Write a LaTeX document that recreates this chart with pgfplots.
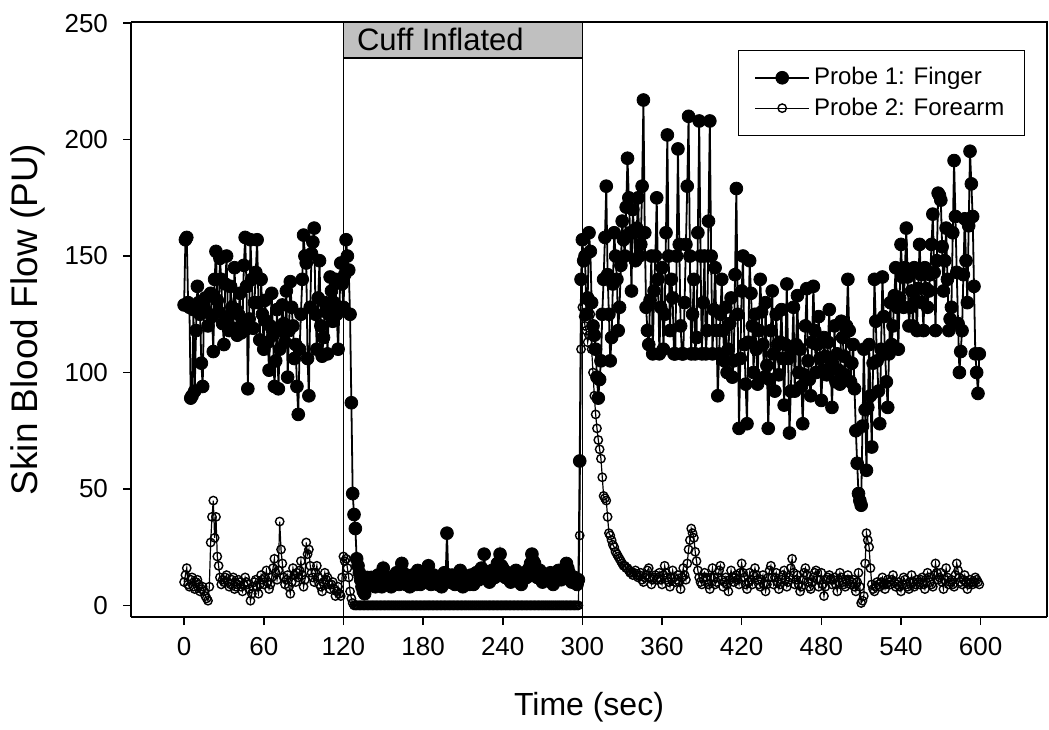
\documentclass[border=0pt]{standalone}
\usepackage{pgfplots}
\usepackage{pgfplotstable}
\usepackage{fontspec}
\setmainfont{Liberation Sans}
\pgfplotsset{compat=1.18}
\definecolor{cuffgray}{HTML}{C0C0C0}
\pgfplotstableread{
t f a
0 129 10
1 157 13
2 158 16
3 130 9
4 128 8
5 89 11
6 90 12
7 127 8
8 92 7
9 118 10
10 137 11
11 130 9
12 125 6
13 104 7
14 94 8
15 128 6
16 132 4
17 126 3
18 120 2
19 133 8
20 134 27
21 124 38
22 109 45
23 140 29
24 152 38
25 131 21
26 126 17
27 149 12
28 140 9
29 121 11
30 112 10
31 138 12
32 150 13
33 124 10
34 118 8
35 137 9
36 128 11
37 119 12
38 145 7
39 127 8
40 116 9
41 125 11
42 134 10
43 117 8
44 121 6
45 146 9
46 158 12
47 137 10
48 93 9
49 123 7
50 157 2
51 140 5
52 119 8
53 130 10
54 143 11
55 157 8
56 130 5
57 114 9
58 140 13
59 125 11
60 110 9
61 131 12
62 122 15
63 113 10
64 101 7
65 120 9
66 134 12
67 116 16
68 94 20
69 105 14
70 127 11
71 93 15
72 110 36
73 118 24
74 129 18
75 121 12
76 113 9
77 135 11
78 98 13
79 118 8
80 139 5
81 128 10
82 120 16
83 106 13
84 112 10
85 94 14
86 82 12
87 110 15
88 125 19
89 140 13
90 159 8
91 150 11
92 147 27
93 106 22
94 90 24
95 128 17
96 151 14
97 156 12
98 162 10
99 125 14
100 110 17
101 132 12
102 148 9
103 120 8
104 107 6
105 115 10
106 130 14
107 126 11
108 108 12
109 125 9
110 141 7
111 135 9
112 122 10
113 130 7
114 140 4
115 125 6
116 110 8
117 128 5
118 147 4
119 138 12
120 128 21
121 142 19
122 157 20
123 150 16
124 144 12
125 125 6
126 87 3
127 48 1
128 39 0
129 33 0
130 20 0
131 17 0
132 14 0
133 11 0
134 8 0
135 6 0
136 5 0
137 9 0
138 12 0
139 10 0
140 9 0
141 12 0
142 11 0
143 9 0
144 8 0
145 10 0
146 13 0
147 11 0
148 10 0
149 8 0
150 16 0
151 12 0
152 9 0
153 11 0
154 12 0
155 10 0
156 8 0
157 9 0
158 11 0
159 13 0
160 14 0
161 10 0
162 9 0
163 12 0
164 18 0
165 14 0
166 10 0
167 9 0
168 12 0
169 11 0
170 8 0
171 10 0
172 13 0
173 12 0
174 10 0
175 9 0
176 15 0
177 12 0
178 9 0
179 11 0
180 12 0
181 10 0
182 11 0
183 13 0
184 17 0
185 12 0
186 9 0
187 10 0
188 13 0
189 11 0
190 10 0
191 9 0
192 12 0
193 10 0
194 8 0
195 11 0
196 14 0
197 12 0
198 31 0
199 13 0
200 10 0
201 12 0
202 13 0
203 10 0
204 9 0
205 12 0
206 11 0
207 13 0
208 15 0
209 11 0
210 8 0
211 10 0
212 12 0
213 11 0
214 10 0
215 9 0
216 13 0
217 12 0
218 9 0
219 11 0
220 14 0
221 12 0
222 11 0
223 13 0
224 16 0
225 15 0
226 22 0
227 14 0
228 13 0
229 12 0
230 10 0
231 13 0
232 15 0
233 12 0
234 12 0
235 14 0
236 18 0
237 16 0
238 22 0
239 17 0
240 16 0
241 14 0
242 12 0
243 13 0
244 14 0
245 11 0
246 10 0
247 12 0
248 13 0
249 14 0
250 15 0
251 12 0
252 11 0
253 10 0
254 9 0
255 12 0
256 14 0
257 13 0
258 12 0
259 14 0
260 16 0
261 18 0
262 22 0
263 19 0
264 18 0
265 14 0
266 12 0
267 13 0
268 15 0
269 12 0
270 10 0
271 11 0
272 13 0
273 12 0
274 11 0
275 13 0
276 14 0
277 10 0
278 9 0
279 11 0
280 12 0
281 14 0
282 15 0
283 12 0
284 11 0
285 12 0
286 13 0
287 15 0
288 18 0
289 16 0
290 14 0
291 11 0
292 10 0
293 11 0
294 12 0
295 10 0
296 9 0
297 11 0
298 62 30
299 140 110
300 157 128
301 148 124
302 150 120
303 125 118
304 132 113
305 160 116
306 152 125
307 130 110
308 120 100
309 116 90
310 110 82
311 98 76
312 89 71
313 97 67
314 105 63
315 125 55
316 140 47
317 158 46
318 180 45
319 142 38
320 125 31
321 105 30
322 115 28
323 138 26
324 160 25
325 150 23
326 140 22
327 118 21
328 128 20
329 146 19
330 165 18
331 157 17
332 150 17
333 171 16
334 192 16
335 175 15
336 160 14
337 135 14
338 170 13
339 160 14
340 148 15
341 162 13
342 175 12
343 150 13
344 155 14
345 180 11
346 217 10
347 160 12
348 128 13
349 118 15
350 112 16
351 131 12
352 150 9
353 108 11
354 135 12
355 150 13
356 175 11
357 140 12
358 108 14
359 128 11
360 145 9
361 110 13
362 125 17
363 160 14
364 202 12
365 150 10
366 118 8
367 140 12
368 132 15
369 108 12
370 108 10
371 150 11
372 196 13
373 155 10
374 120 7
375 108 12
376 108 16
377 130 13
378 155 11
379 180 18
380 210 24
381 150 28
382 108 33
383 125 31
384 140 29
385 108 23
386 115 19
387 160 15
388 208 12
389 150 10
390 108 9
391 130 12
392 150 14
393 108 12
394 118 11
395 165 9
396 208 7
397 150 12
398 108 16
399 127 12
400 145 9
401 118 10
402 90 12
403 108 15
404 125 17
405 140 11
406 118 8
407 105 10
408 128 12
409 100 9
410 110 6
411 121 11
412 132 15
413 98 12
414 105 10
415 142 12
416 179 13
417 125 11
418 76 9
419 106 14
420 135 18
421 150 14
422 112 12
423 95 9
424 78 7
425 113 10
426 148 14
427 134 11
428 120 9
429 100 13
430 125 16
431 110 13
432 95 11
433 118 9
434 140 8
435 126 11
436 112 13
437 98 9
438 130 6
439 103 9
440 76 12
441 97 15
442 118 17
443 135 12
444 108 9
445 92 12
446 125 14
447 112 10
448 99 7
449 113 9
450 127 11
451 106 13
452 86 15
453 112 11
454 138 8
455 106 10
456 74 12
457 92 16
458 110 20
459 128 14
460 92 9
461 112 11
462 133 13
463 100 9
464 110 6
465 94 8
466 78 11
467 99 14
468 120 16
469 136 13
470 105 10
471 97 8
472 90 7
473 113 10
474 137 12
475 118 14
476 100 15
477 112 11
478 124 8
479 106 11
480 88 14
481 101 9
482 115 4
483 107 8
484 99 11
485 113 12
486 127 13
487 106 11
488 85 9
489 102 11
490 120 12
491 96 9
492 108 6
493 101 10
494 95 14
495 122 12
496 115 10
497 107 9
498 99 8
499 120 11
500 140 13
501 118 11
502 96 9
503 104 10
504 112 11
505 93 8
506 75 6
507 61 10
508 48 14
509 45 8
510 43 1
511 77 2
512 110 4
513 84 18
514 58 31
515 85 28
516 112 25
517 90 16
518 68 9
519 104 7
520 140 6
521 122 8
522 105 10
523 92 9
524 78 8
525 110 10
526 141 12
527 124 9
528 108 7
529 96 9
530 85 11
531 108 10
532 130 9
533 112 11
534 120 13
535 133 10
536 145 8
537 128 9
538 110 10
539 132 8
540 155 6
541 141 9
542 128 12
543 145 11
544 162 9
545 141 8
546 120 7
547 128 10
548 135 13
549 120 10
550 145 8
551 131 9
552 118 11
553 136 10
554 155 9
555 142 11
556 130 12
557 118 9
558 145 7
559 136 10
560 128 14
561 135 12
562 142 10
563 155 9
564 168 8
565 143 13
566 118 18
567 148 14
568 177 11
569 176 12
570 174 14
571 154 10
572 135 7
573 148 11
574 162 16
575 140 12
576 118 9
577 123 10
578 128 11
579 160 9
580 191 8
581 167 13
582 143 18
583 121 15
584 100 12
585 109 10
586 118 9
587 142 11
588 166 13
589 148 10
590 130 7
591 163 9
592 195 11
593 181 10
594 167 9
595 137 10
596 108 12
597 100 11
598 91 10
599 108 9
}\data
\begin{document}
\begin{tikzpicture}
\begin{axis}[
  scale only axis, width=458pt, height=297.5pt,
  xmin=-40, xmax=650, ymin=-5, ymax=250.5,
  xtick={0,60,...,600}, ytick={0,50,...,250},
  axis x line*=bottom, axis y line*=left,
  tick align=outside, major tick length=4pt,
  axis line style={line width=0.9pt, -},
  every tick/.style={line width=0.8pt, black},
  /pgf/number format/assume math mode=true,
  ticklabel style={font=\fontsize{13}{15}\selectfont},
  xticklabel style={yshift=-2.5pt},
  yticklabel style={xshift=-4pt},
  xlabel={Time (sec)}, ylabel={Skin Blood Flow (PU)},
  xlabel style={font=\fontsize{16}{20}\selectfont, at={(axis description cs:0.5,-0.151)}, anchor=center},
  ylabel style={font=\fontsize{18.5}{22}\selectfont, at={(axis description cs:-0.112,0.5)}, anchor=center},
  legend style={at={(0.976,0.953)}, anchor=north east, draw=black, line width=0.6pt,
    font=\fontsize{12}{15}\selectfont, inner xsep=8pt, inner ysep=6.5pt, row sep=1pt},
  legend cell align=left,
  legend image code/.code={\draw[mark repeat=2,mark phase=2,#1] plot coordinates {(0pt,0pt) (13.5pt,0pt) (27pt,0pt)};},
]
\filldraw[fill=cuffgray, draw=black, line width=0.7pt] (axis cs:120,235.1) rectangle (axis cs:300,250.5);
\draw[line width=0.7pt] (axis cs:120,-5) -- (axis cs:120,235.1);
\draw[line width=0.7pt] (axis cs:300,-5) -- (axis cs:300,235.1);
\node[anchor=west, font=\fontsize{15.5}{18}\selectfont, inner sep=0pt] at (axis cs:130,243) {Cuff Inflated};
\addplot[black, line width=0.9pt, mark=*, mark size=3.2pt, mark options={fill=black, line width=0.4pt}] table[x=t, y=f] {\data};
\addlegendentry{Probe 1: Finger}
\addplot[black, line width=0.6pt, mark=o, mark size=2.1pt, mark options={fill=white, line width=0.7pt}] table[x=t, y=a] {\data};
\addlegendentry{Probe 2: Forearm}
\end{axis}
\draw[line width=0.9pt] (current axis.north west) -- (current axis.north east) -- (current axis.south east);
\pgfresetboundingbox
\path[use as bounding box] ([shift={(-65.5pt,-56pt)}]current axis.south west) rectangle ([shift={(1pt,11pt)}]current axis.north east);
\end{tikzpicture}
\end{document}
